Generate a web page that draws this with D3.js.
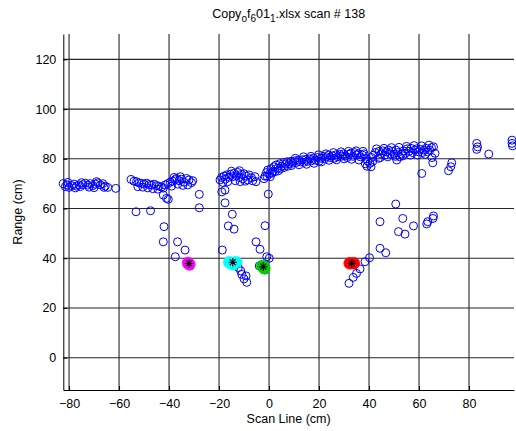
<!DOCTYPE html>
<html><head><meta charset="utf-8">
<script src="https://cdn.jsdelivr.net/npm/d3@7/dist/d3.min.js"></script>
<style>body{margin:0;background:#fff}svg{display:block}text{font-family:"Liberation Sans",Arial,sans-serif;fill:#000}</style>
</head><body><div id="chart"></div>
<script>
const xTicks = [-80, -60, -40, -20, 0, 20, 40, 60, 80];
const yTicks = [0, 20, 40, 60, 80, 100, 120];
const xDomain = [-82.3, 98];
const yDomain = [-13, 130.2];

// blue scan points [scan line, range]
const cluster1 = [[-82.3,70.0],[-81.5,68.8],[-80.8,69.5],[-80,68.5],[-79,69.2],[-78,69.8],[-77,69.0],[-76,69.5],[-75.5,68.8],[-74.5,69.6],[-73.5,70.2],[-72.5,69.4],[-71.5,70.0],[-70.5,69.2],[-69.5,69.8],[-68.5,70.3],[-67.5,69.5],[-66.5,70.0],[-65.5,69.0],[-64.5,68.5],[-61.3,68.1],
  [-80.5,70.5],[-77.5,68.3],[-75,70.4],[-72,68.6],[-69,70.8],[-66,68.5],[-70,68.4]];
const cluster2 = [[-55.2,71.7],[-54.0,71.0],[-53.0,70.8],[-52.0,70.3],[-51.0,70.1],[-50.0,69.8],[-49.0,70.2],[-48.0,69.6],[-47.0,69.4],[-46.0,69.8],[-45.0,69.2],[-44.0,69.0],[-43.0,68.7],[-42.3,68.2],[-41.5,69.5],[-40.5,70.0],[-39.5,70.6],[-38.5,71.0],[-37.5,71.6],[-37.0,72.1],[-36.0,71.2],[-35.0,71.8],[-34.0,70.6],[-33.0,72.1],[-32.0,71.5],[-31.0,70.4],[-30.5,71.2],[-42.3,65.4],[-41.0,64.1],[-40.3,63.7],
  [-52.5,68.8],[-50.5,68.6],[-48.5,68.3],[-46.5,68.0],[-44.5,67.8],[-39.0,69.0],[-36.5,69.8],[-34.5,69.3],[-32.5,69.5],[-35.5,72.8],[-38.0,72.5]];
const cluster3 = [[-19.6,71.5],[-19.0,72.5],[-18.5,70.5],[-18.0,73.0],[-17.5,71.8],[-17.0,73.5],[-16.0,72.6],[-15.5,73.8],[-14.5,72.8],[-14.0,74.2],[-13.0,73.2],[-12.5,74.5],[-12.0,72.5],[-11.0,73.8],[-10.5,72.0],[-10.0,74.0],[-9.0,73.0],[-8.5,71.5],[-8.0,73.5],[-7.0,72.4],[-6.5,71.2],[-5.6,72.8],[-5.2,70.8],[-18.9,66.7],[-17.6,67.4],[-17.6,62.3],
  [-16.5,70.8],[-13.5,71.2],[-11.5,70.8],[-9.5,71.0],[-15.0,75.0],[-11.8,75.2]];
const band = [[-1.6,73.0],[-1.0,74.5],[-0.5,75.5],[0.2,74.0],[0.8,76.0],[1.5,75.0],[2.0,76.8],[2.8,77.5],[3.5,76.2],[4.2,78.0],[5.0,77.0],[5.8,78.5],[6.5,77.8],[7.2,78.8],[8.0,78.0],[8.8,79.0],[9.5,78.3],[10.3,79.2],[11.0,78.5],[11.8,79.5],[12.5,78.8],[13.3,79.6],[14.0,78.6],[14.8,79.8],[15.5,79.0],[16.3,80.0],[17.0,79.2],[17.8,80.3],[18.5,79.5],[19.3,80.5],[20.0,79.0],[20.8,80.2],[21.5,81.0],[22.3,80.0],[23.0,80.8],[23.8,81.5],[24.5,80.5],[25.3,81.2],[26.0,80.2],[26.8,81.6],[27.5,80.8],[28.3,81.8],[29.0,81.0],[29.8,82.0],[30.5,81.2],[31.3,80.5],[32.0,81.8],[32.8,82.3],[33.5,81.0],[34.3,82.5],[35.0,81.5],[35.8,82.0],[36.5,80.8],[37.3,81.5],[38.0,82.0],[38.8,80.0],[39.5,79.0],[40.4,78.2],[41.0,80.5],[41.8,81.5],[42.5,82.5],[43.8,80.2],[44.0,83.0],[44.8,82.0],[45.5,83.2],[46.3,81.5],[47.0,82.8],[47.8,83.5],[48.5,82.0],[49.3,83.0],[50.0,81.8],[50.8,83.5],[51.1,79.5],[51.5,82.5],[52.3,80.8],[53.0,82.0],[53.8,83.2],[54.5,82.2],[55.3,84.0],[56.0,83.0],[56.8,84.2],[57.5,82.5],[58.3,83.5],[59.0,84.0],[59.8,82.8],[60.5,83.8],[61.3,82.5],[62.0,83.5],[62.8,84.2],[63.5,82.8],[64.3,83.5],[65.0,84.5],[65.8,84.8],[66.4,82.2],[65.5,78.4],[61.1,74.1]];
const band2 = [[-2.0,72.0],[-0.8,73.0],[0.5,72.8],[1.2,74.2],[2.4,74.8],[3.8,75.2],[4.6,76.0],[6.0,76.5],[7.5,77.0],[9.0,77.3],[10.5,80.2],[12.0,77.6],[13.8,80.8],[15.0,77.8],[16.8,81.0],[18.0,78.2],[19.8,81.6],[21.0,78.8],[22.8,82.0],[24.0,79.4],[25.8,82.5],[27.0,79.6],[28.8,82.8],[30.0,80.0],[31.8,83.0],[33.0,79.8],[34.8,83.2],[36.0,79.5],[37.6,83.0],[38.5,78.0],[39.2,77.0],[40.8,76.8],[41.5,79.0],[43.0,84.0],[44.5,80.5],[46.0,84.2],[47.5,80.8],[49.0,84.5],[50.5,81.0],[52.0,84.6],[53.5,81.2],[55.0,85.0],[56.5,81.5],[58.0,85.3],[59.5,81.5],[61.0,85.2],[62.5,81.8],[64.0,85.5],[65.2,80.5]];
const scatter = [[-53.2,58.7],[-47.4,59.1],[-42.0,52.7],[-42.3,46.6],[-36.6,46.6],[-33.6,43.3],[-37.5,40.6],[-31.6,36.9],[-27.9,65.7],[-27.9,60.3],
  [-14.7,57.7],[-16.3,53.0],[-14.0,51.7],[-18.7,43.3],[-12.3,36.3],[-11.3,34.9],[-10.9,33.5],[-9.2,32.9],[-10.0,31.7],[-8.9,30.3],
  [-0.3,65.8],[-1.6,53.1],[-5.2,46.6],[-3.6,43.6],[-0.9,40.6],[0.1,40.0],[-3.9,36.9],[-1.6,35.3],
  [73.1,78.4],[72.7,76.8],[71.8,75.2],[83.1,86.2],[83.4,84.8],[83.1,83.8],[87.9,81.9],[97.2,87.5],[97.2,86.2],[97.4,85.2],
  [50.7,61.8],[44.4,54.7],[53.5,56.0],[57.8,53.0],[51.8,50.7],[54.4,49.7],[65.8,57.0],[65.6,56.0],[63.5,54.7],[63.1,53.8],
  [44.4,44.0],[46.7,42.2],[40.2,40.2],[38.4,38.6],[36.4,35.7],[35.0,33.9],[33.7,32.3],[32.0,29.9]];

// detected targets: filled markers and star centres
const magentaPts = [[-32.4,38.1],[-31.9,37.6]];
const cyanPts = [[-15.9,38.4],[-13.2,38.4],[-14.5,37.6]];
const greenPts = [[-2.7,36.9],[-1.9,36.0],[-2.3,36.5]];
const redPts = [[32.3,38.0],[33.9,38.0]];
const stars = [[-32.0,37.9],[-14.5,38.4],[-2.3,36.6],[33.1,38.0]];

const W = 516, H = 431;
const m = {l: 63.3, r: 2, t: 34, b: 41};
const svg = d3.select("#chart").append("svg").attr("width", W).attr("height", H);
const x = d3.scaleLinear().domain(xDomain).range([m.l, W - m.r]);
const y = d3.scaleLinear().domain(yDomain).range([H - m.b, m.t]);

const g = svg.append("g");
// grid
g.selectAll("line.vg").data(xTicks).join("line")
  .attr("x1", d => x(d)).attr("x2", d => x(d)).attr("y1", y.range()[0]).attr("y2", y.range()[1])
  .attr("stroke", "#262626").attr("stroke-width", 1.1);
g.selectAll("line.hg").data(yTicks).join("line")
  .attr("y1", d => y(d)).attr("y2", d => y(d)).attr("x1", x.range()[0]).attr("x2", x.range()[1])
  .attr("stroke", "#262626").attr("stroke-width", 1.1);

// axes
const xAxis = d3.axisBottom(x).tickValues(xTicks).tickSizeInner(-4).tickSizeOuter(0).tickPadding(9);
const yAxis = d3.axisLeft(y).tickValues(yTicks).tickSizeInner(-4).tickSizeOuter(0).tickPadding(7);
const gx = svg.append("g").attr("transform", `translate(0,${y.range()[0]})`).call(xAxis);
const gy = svg.append("g").attr("transform", `translate(${x.range()[0]},0)`).call(yAxis);
[gx, gy].forEach(a => {
  a.select(".domain").attr("stroke", "#000").attr("stroke-width", 1);
  a.selectAll(".tick line").attr("stroke", "#000");
  a.selectAll(".tick text").attr("font-size", 12.5).attr("fill", "#1a1a1a")
    .attr("font-family", '"Liberation Sans", Arial, sans-serif');
});

// blue circles
const blue = [].concat(cluster1, cluster2, cluster3, band, band2, scatter);
svg.append("g").selectAll("circle").data(blue).join("circle")
  .attr("cx", d => x(d[0])).attr("cy", d => y(d[1])).attr("r", 4)
  .attr("fill", "none").attr("stroke", "#0000ff").attr("stroke-width", 1);

// coloured targets
const targets = [[magentaPts, "#ff00ff"], [cyanPts, "#00ffff"], [greenPts, "#00cc00"], [redPts, "#ff0000"]];
targets.forEach(([pts, col]) => {
  svg.append("g").selectAll("circle").data(pts).join("circle")
    .attr("cx", d => x(d[0])).attr("cy", d => y(d[1])).attr("r", 6)
    .attr("fill", col).attr("stroke", col).attr("stroke-width", 0.5);
});
const s = 4.2, s2 = 3;
const starPath = `M${-s},0L${s},0M0,${-s}L0,${s}M${-s2},${-s2}L${s2},${s2}M${-s2},${s2}L${s2},${-s2}`;
svg.append("g").selectAll("path").data(stars).join("path")
  .attr("transform", d => `translate(${x(d[0])},${y(d[1])})`)
  .attr("d", starPath).attr("stroke", "#000").attr("stroke-width", 1.1).attr("fill", "none");

// title
const cx = (x.range()[0] + x.range()[1]) / 2;
const title = svg.append("text").attr("x", cx).attr("y", 18).attr("text-anchor", "middle").attr("font-size", 12.5);
const parts = [["Copy", 0], ["o", 1], ["f", 0], ["6", 1], ["01", 0], ["1", 1], [".xlsx scan # 138", 0]];
let sub = 0;
parts.forEach(([t, isSub]) => {
  const dy = isSub && !sub ? 4 : (!isSub && sub ? -4 : 0);
  title.append("tspan").attr("dy", dy).attr("font-size", isSub ? 10 : 12.5).text(t);
  sub = isSub;
});

svg.append("text").attr("x", cx).attr("y", 423).attr("text-anchor", "middle").attr("font-size", 12.5).text("Scan Line (cm)");
svg.append("text").attr("transform", `translate(22,${(y.range()[0] + y.range()[1]) / 2}) rotate(-90)`)
  .attr("text-anchor", "middle").attr("font-size", 12.5).text("Range (cm)");
</script></body></html>
